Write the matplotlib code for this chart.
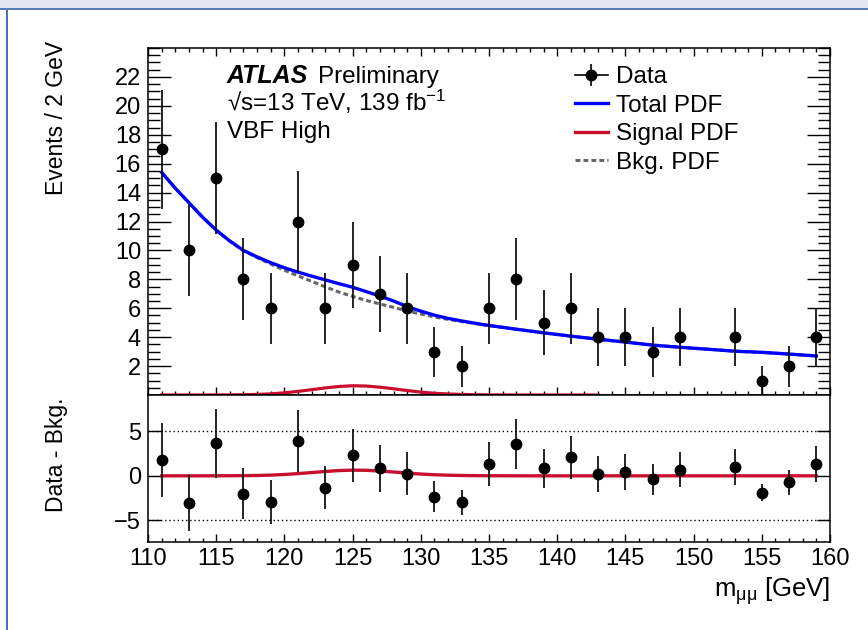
import numpy as np
import matplotlib.pyplot as plt
from matplotlib.lines import Line2D
from matplotlib.patches import Rectangle

plt.rcParams['font.family'] = ['Liberation Sans', 'DejaVu Sans']
plt.rcParams['mathtext.fontset'] = 'custom'
plt.rcParams['mathtext.rm'] = 'Liberation Sans'
plt.rcParams['mathtext.it'] = 'Liberation Sans:italic'

# data points (bin centres, 2 GeV bins; 151 GeV bin is empty)
mass = [111, 113, 115, 117, 119, 121, 123, 125, 127, 129, 131, 133, 135,
        137, 139, 141, 143, 145, 147, 149, 153, 155, 157, 159]
events = [17, 10, 15, 8, 6, 12, 6, 9, 7, 6, 3, 2, 6,
          8, 5, 6, 4, 4, 3, 4, 4, 1, 2, 4]
resid = [1.77, -3.05, 3.65, -2.0, -2.97, 3.95, -1.32, 2.29, 0.83, 0.26, -2.33, -3.0, 1.32,
         3.57, 0.83, 2.07, 0.19, 0.41, -0.41, 0.71, 1.0, -1.88, -0.75, 1.32]

# fitted curves
curve_x = [111, 112, 113, 114, 115, 116, 117, 118, 119, 120, 121, 122, 123, 124, 125,
           126, 127, 128, 129, 130, 131, 132, 133, 134, 135, 137, 139, 141, 143,
           145, 147, 149, 151, 153, 155, 157, 159]
total_pdf = [15.4, 14.3, 13.3, 12.3, 11.4, 10.65, 10.0, 9.55, 9.15, 8.8, 8.5, 8.22, 7.96, 7.7, 7.45,
             7.15, 6.85, 6.5, 6.12, 5.8, 5.52, 5.3, 5.12, 4.96, 4.81, 4.55, 4.3, 4.07, 3.86,
             3.66, 3.45, 3.3, 3.17, 3.03, 2.95, 2.83, 2.7]
bkg_pdf = [15.4, 14.3, 13.3, 12.3, 11.4, 10.64, 9.98, 9.5, 9.06, 8.63, 8.24, 7.86, 7.48, 7.12, 6.82,
           6.54, 6.3, 6.06, 5.81, 5.6, 5.4, 5.23, 5.08, 4.94, 4.8, 4.55, 4.3, 4.07, 3.86,
           3.66, 3.45, 3.3, 3.17, 3.03, 2.95, 2.83, 2.7]
signal_pdf = [0.0, 0.0, 0.0, 0.0, 0.005, 0.01, 0.02, 0.04, 0.08, 0.15, 0.25, 0.37, 0.49, 0.59, 0.64,
              0.62, 0.54, 0.43, 0.31, 0.2, 0.12, 0.07, 0.04, 0.02, 0.01, 0.0, 0.0, 0.0, 0.0,
              0.0, 0.0, 0.0, 0.0, 0.0, 0.0, 0.0, 0.0]
signal_top_end = 143

blue = '#0000ff'
red = '#c8102e'
grey = '#666666'
fs = 17.5
fs_tick = 17

fig = plt.figure(figsize=(8.68, 6.3), dpi=100)

# screenshot window frame
fig.patches.append(Rectangle((0, 1 - 8 / 630), 1, 8 / 630, transform=fig.transFigure,
                             facecolor='#e4e7ee', edgecolor='none'))
fig.patches.append(Rectangle((0, 1 - 10 / 630), 1, 2 / 630, transform=fig.transFigure,
                             facecolor='#5a7db8', edgecolor='none'))
fig.patches.append(Rectangle((6 / 868, 0), 2 / 868, 1 - 10 / 630, transform=fig.transFigure,
                             facecolor='#4a70b0', edgecolor='none'))

ax = fig.add_axes([148 / 868, 1 - 395 / 630, 682 / 868, 347 / 630])
axr = fig.add_axes([148 / 868, 1 - 542 / 630, 682 / 868, 147 / 630])

err = np.sqrt(events)
mask = np.array(curve_x) <= signal_top_end

# top panel
ax.plot(np.array(curve_x)[mask], np.array(signal_pdf)[mask], color=red, lw=2.3, zorder=2)
ax.plot(curve_x, bkg_pdf, color=grey, lw=2.2, ls=(0, (1.6, 1.0)), zorder=3)
ax.plot(curve_x, total_pdf, color=blue, lw=2.4, zorder=4)
ax.errorbar(mass, events, yerr=err, fmt='o', color='black', ms=7.5, elinewidth=1.2,
            capsize=0, zorder=5)
ax.set_xlim(110, 160)
ax.set_ylim(0, 24)
ax.set_yticks(np.arange(2, 23, 2))
ax.set_yticks(np.arange(0, 24.01, 0.5), minor=True)
ax.set_xticks(np.arange(110, 161, 5))
ax.set_xticks(np.arange(110, 161, 1), minor=True)
ax.tick_params(axis='both', which='both', direction='in', top=True, right=True,
               labelbottom=False, labelsize=fs_tick, width=1.0)
ax.tick_params(axis='y', which='major', length=16.5, pad=5)
ax.tick_params(axis='y', which='minor', length=8.5)
ax.tick_params(axis='x', which='major', length=6)
ax.tick_params(axis='x', which='minor', length=3.2)
for s in ax.spines.values():
    s.set_linewidth(1.1)

fig.text(227 / 868, 1 - 83 / 630, 'ATLAS', fontsize=18, fontweight='bold', fontstyle='italic',
         va='baseline', ha='left')
fig.text(318 / 868, 1 - 83 / 630, 'Preliminary', fontsize=fs, va='baseline', ha='left')
fig.text(227 / 868, 1 - 111 / 630, '√s=13 TeV, 139 fb$^{\\mathrm{-1}}$', fontsize=fs,
         va='baseline', ha='left')
fig.text(227 / 868, 1 - 138 / 630, 'VBF High', fontsize=fs, va='baseline', ha='left')

h_data = (Line2D([], [], color='black', lw=1.2, marker='o', ms=7.5),
          Line2D([], [], color='black', lw=0, marker='|', ms=16, mew=1.2))
h_tot = Line2D([], [], color=blue, lw=2.4)
h_sig = Line2D([], [], color=red, lw=2.4)
h_bkg = Line2D([], [], color=grey, lw=2.2, ls=(0, (1.6, 1.0)))
fig.legend([h_data, h_tot, h_sig, h_bkg], ['Data', 'Total PDF', 'Signal PDF', 'Bkg. PDF'],
           loc='upper left', bbox_to_anchor=(575 / 868, 1 - 66 / 630), frameon=False,
           fontsize=fs, handlelength=1.35, handletextpad=0.35, labelspacing=0.27,
           borderpad=0, borderaxespad=0)

fig.text(57 / 868, 1 - 41 / 630, 'Events / 2 GeV', rotation=90, fontsize=16.5,
         va='top', ha='center')

# bottom panel
axr.axhline(5, color='black', lw=1.0, ls=(0, (1, 2)))
axr.axhline(-5, color='black', lw=1.0, ls=(0, (1, 2)))
axr.plot(curve_x, signal_pdf, color=red, lw=2.4, zorder=3)
axr.errorbar(mass, resid, yerr=err, fmt='o', color='black', ms=7.5, elinewidth=1.2,
             capsize=0, zorder=5)
axr.set_xlim(110, 160)
axr.set_ylim(-7.45, 9.1)
axr.set_yticks([-5, 0, 5])
axr.set_xticks(np.arange(110, 161, 5))
axr.set_xticks(np.arange(110, 161, 1), minor=True)
axr.tick_params(axis='both', which='both', direction='in', labelsize=fs_tick, width=1.0)
axr.tick_params(axis='y', which='major', length=9.5, right=True, pad=5)
axr.tick_params(axis='x', which='major', length=6, pad=4)
axr.tick_params(axis='x', which='minor', length=3.2)
for s in axr.spines.values():
    s.set_linewidth(1.1)

fig.text(57 / 868, 1 - 398 / 630, 'Data - Bkg.', rotation=90, fontsize=16.5,
         va='top', ha='center')
fig.text(830 / 868, 1 - 591 / 630, 'm$_{\\mathrm{μμ}}$ [GeV]', fontsize=18.5,
         va='center', ha='right')

fig.savefig('out.png', dpi=100)
